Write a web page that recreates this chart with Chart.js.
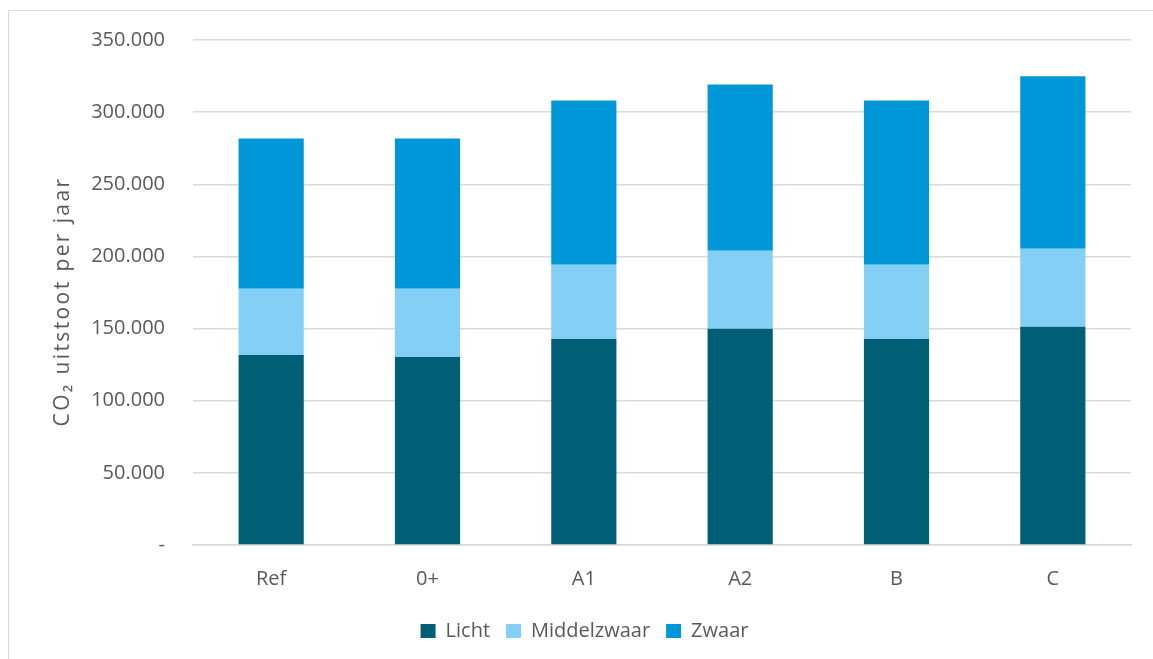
<!DOCTYPE html>
<html lang="nl">

<head>
    <meta charset="UTF-8">
    <title>CO2 uitstoot per jaar</title>
    <style>
        body {
            margin: 0;
            background: #fff;
            overflow: hidden;
        }

        #frame {
            position: absolute;
            left: 8px;
            top: 10px;
            width: 1160px;
            height: 660px;
            border: 1px solid #d9d9d9;
            box-sizing: border-box;
        }

        #wrap {
            position: absolute;
            left: 0;
            top: 0;
            width: 1153px;
            height: 659px;
        }
    </style>
    <script src="https://cdn.jsdelivr.net/npm/chart.js"></script>
</head>

<body>
    <div id="frame"></div>
    <div id="wrap"><canvas id="co2Chart"></canvas></div>

    <script>
        // scenario's
        const categories = ["Ref", "0+", "A1", "A2", "B", "C"];

        // CO2 uitstoot per jaar, per voertuigklasse
        const licht = [131700, 130300, 142800, 149800, 142800, 151200];
        const middelzwaar = [45900, 47300, 51400, 54200, 51400, 54100];
        const zwaar = [104100, 104100, 113900, 115200, 113900, 119500];

        const yTitle = "CO\u2082 uitstoot per jaar";

        const font = "'Open Sans', sans-serif";
        const textColor = "#595959";

        function formatNL(v) {
            if (v === 0) return "-";
            return String(v).replace(/\B(?=(\d{3})+(?!\d))/g, ".");
        }

        // the axis title is spaced wider than Chart.js draws it, so paint it ourselves
        const spacedTitle = {
            id: "spacedTitle",
            afterDraw(chart) {
                const c = chart.ctx;
                const area = chart.chartArea;
                c.save();
                c.translate(63, (area.top + area.bottom) / 2 + 9);
                c.rotate(-Math.PI / 2);
                c.font = "21px " + font;
                c.fillStyle = textColor;
                c.textAlign = "center";
                c.textBaseline = "middle";
                c.letterSpacing = "2.4px";
                c.fillText(yTitle, 0, 0);
                c.restore();
            }
        };

        const ctx = document.getElementById("co2Chart").getContext("2d");
        new Chart(ctx, {
            type: "bar",
            data: {
                labels: categories,
                datasets: [
                    { label: "Licht", data: licht, backgroundColor: "#005E75" },
                    { label: "Middelzwaar", data: middelzwaar, backgroundColor: "#83CFF5" },
                    { label: "Zwaar", data: zwaar, backgroundColor: "#0097D9" }
                ]
            },
            plugins: [spacedTitle],
            options: {
                responsive: true,
                maintainAspectRatio: false,
                animation: false,
                datasets: {
                    bar: { categoryPercentage: 1, barPercentage: 0.417 }
                },
                layout: {
                    padding: { left: 38, right: 22, top: 33, bottom: 8 }
                },
                plugins: {
                    tooltip: { enabled: false },
                    legend: {
                        position: "bottom",
                        labels: {
                            boxWidth: 15,
                            boxHeight: 14,
                            padding: 16,
                            color: textColor,
                            font: { family: font, size: 20 }
                        }
                    }
                },
                scales: {
                    x: {
                        stacked: true,
                        grid: { display: false },
                        border: { color: "#d9d9d9", width: 1.5 },
                        ticks: {
                            color: textColor,
                            padding: 14,
                            font: { family: font, size: 20 }
                        }
                    },
                    y: {
                        stacked: true,
                        min: 0,
                        max: 350000,
                        afterFit: (scale) => { scale.width = 155; },
                        grid: { color: "#d9d9d9", lineWidth: 1.5, drawTicks: false },
                        border: { display: false },
                        ticks: {
                            stepSize: 50000,
                            color: textColor,
                            padding: 28,
                            font: { family: font, size: 20 },
                            callback: (v) => formatNL(v)
                        }
                    }
                }
            }
        });
    </script>
</body>

</html>
